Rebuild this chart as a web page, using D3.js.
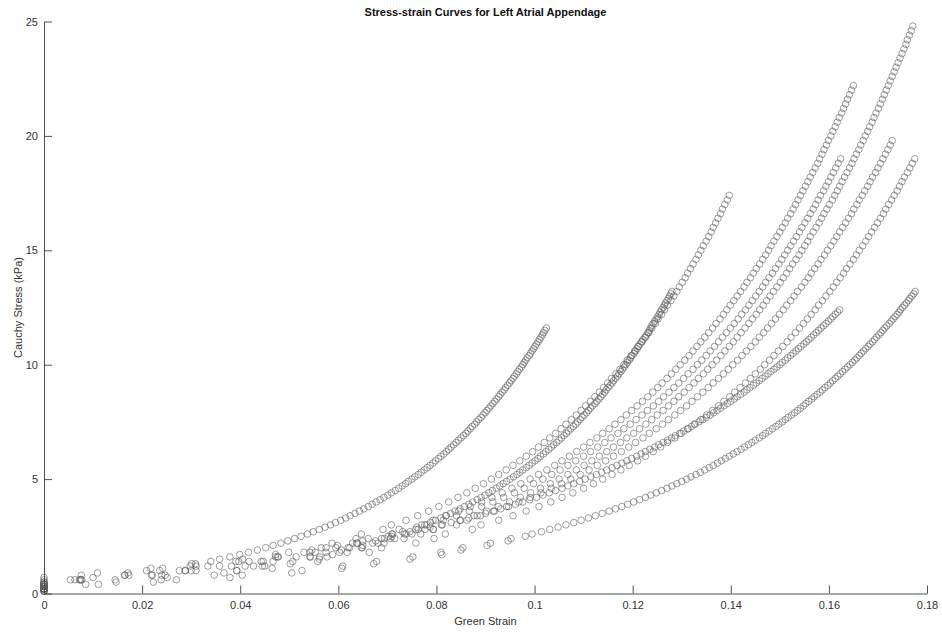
<!DOCTYPE html>
<html>
<head>
<meta charset="utf-8">
<script src="https://cdn.jsdelivr.net/npm/d3@7"></script>
<style>
  body { margin: 0; background: #fff; }
  svg text { font-family: "Liberation Sans", Arial, Helvetica, sans-serif; }
</style>
</head>
<body>
<svg id="chart" width="942" height="632"></svg>
<script>
'use strict'

// stress levels (kPa) the samples were taken at; each curve uses the first N of them
var stressFine = [
  0.1,0.2,0.3,0.4,0.5,0.6,0.7,0.8,0.9,1.0,1.1,1.2,1.3,1.4,1.5,1.6,1.7,1.8,1.9,2.0,
  2.1,2.2,2.3,2.4,2.5,2.6,2.7,2.8,2.9,3.0,3.1,3.2,3.3,3.4,3.5,3.6,3.7,3.8,3.9,4.0,
  4.1,4.2,4.3,4.4,4.5,4.6,4.7,4.8,4.9,5.0,5.1,5.2,5.3,5.4,5.5,5.6,5.7,5.8,5.9,6.0,
  6.1,6.2,6.3,6.4,6.5,6.6,6.7,6.8,6.9,7.0,7.1,7.2,7.3,7.4,7.5,7.6,7.7,7.8,7.9,8.0,
  8.1,8.2,8.3,8.4,8.5,8.6,8.7,8.8,8.9,9.0,9.1,9.2,9.3,9.4,9.5,9.6,9.7,9.8,9.9,10.0,
  10.1,10.2,10.3,10.4,10.5,10.6,10.7,10.8,10.9,11.0,11.1,11.2,11.3,11.4,11.5,11.6,11.7,11.8,11.9,12.0,
  12.1,12.2,12.3,12.4,12.5,12.6,12.7,12.8,12.9,13.0,13.1,13.2
]
var stressCoarse = [
  0.2,0.4,0.6,0.8,1.0,1.2,1.4,1.6,1.8,2.0,2.2,2.4,2.6,2.8,3.0,3.2,3.4,3.6,3.8,4.0,
  4.2,4.4,4.6,4.8,5.0,5.2,5.4,5.6,5.8,6.0,6.2,6.4,6.6,6.8,7.0,7.2,7.4,7.6,7.8,8.0,
  8.2,8.4,8.6,8.8,9.0,9.2,9.4,9.6,9.8,10.0,10.2,10.4,10.6,10.8,11.0,11.2,11.4,11.6,11.8,12.0,
  12.2,12.4,12.6,12.8,13.0,13.2,13.4,13.6,13.8,14.0,14.2,14.4,14.6,14.8,15.0,15.2,15.4,15.6,15.8,16.0,
  16.2,16.4,16.6,16.8,17.0,17.2,17.4,17.6,17.8,18.0,18.2,18.4,18.6,18.8,19.0,19.2,19.4,19.6,19.8,20.0,
  20.2,20.4,20.6,20.8,21.0,21.2,21.4,21.6,21.8,22.0,22.2,22.4,22.6,22.8,23.0,23.2,23.4,23.6,23.8,24.0,
  24.2,24.4,24.6,24.8
]

// green strain of every sample, one array per specimen
var strainA = [
  0,0,0,0,0,0.0074,0.0100,0.0173,0.0171,0.0236,0.0242,0.0310,0.0301,0.0340,
  0.0358,0.0379,0.0399,0.0417,0.0435,0.0452,0.0467,0.0483,0.0497,0.0511,
  0.0524,0.0537,0.0549,0.0561,0.0573,0.0584,0.0594,0.0605,0.0615,0.0624,
  0.0634,0.0643,0.0652,0.0661,0.0669,0.0677,0.0685,0.0693,0.0701,0.0708,
  0.0716,0.0723,0.0730,0.0737,0.0743,0.0750,0.0756,0.0763,0.0769,0.0775,
  0.0781,0.0787,0.0793,0.0798,0.0804,0.0809,0.0815,0.0820,0.0825,0.0830,
  0.0835,0.0840,0.0845,0.0850,0.0855,0.0860,0.0864,0.0869,0.0873,0.0878,
  0.0882,0.0886,0.0891,0.0895,0.0899,0.0903,0.0907,0.0911,0.0915,0.0919,
  0.0923,0.0927,0.0930,0.0934,0.0938,0.0941,0.0945,0.0949,0.0952,0.0956,
  0.0959,0.0963,0.0966,0.0969,0.0973,0.0976,0.0979,0.0982,0.0985,0.0989,
  0.0992,0.0995,0.0998,0.1001,0.1004,0.1007,0.1010,0.1013,0.1016,0.1018,0.1021,0.1024
]
var strainB = [
  0,0,0.0072,0.0219,0.0276,0.0382,0.0397,0.0478,0.0499,0.0575,0.0587,0.0636,0.0647,0.0691,0.0708,
  0.0738,0.0762,0.0784,0.0805,0.0825,0.0844,0.0862,0.0879,0.0896,0.0912,
  0.0927,0.0942,0.0956,0.0970,0.0983,0.0996,0.1008,0.1020,0.1031,0.1043,
  0.1054,0.1064,0.1075,0.1085,0.1095,0.1104,0.1114,0.1123,0.1132,0.1141,
  0.1149,0.1157,0.1166,0.1174,0.1182,0.1189,0.1197,0.1204,0.1211,0.1219,
  0.1226,0.1233,0.1239,0.1246,0.1252,0.1259,0.1265,0.1271,0.1278,0.1284,
  0.1290,0.1295,0.1301,0.1307,0.1312,0.1318,0.1323,0.1329,0.1334,0.1339,
  0.1344,0.1350,0.1355,0.1360,0.1364,0.1369,0.1374,0.1379,0.1383,0.1388,
  0.1393,0.1397
]
var strainC = [
  0,0,0,
  0.0111,0.0147,0.0239,0.0251,0.0347,0.0367,0.0393,0.0465,0.0445,0.0502,
  0.0507,0.0561,0.0543,0.0588,0.0618,0.0606,0.0649,0.0650,0.0681,0.0676,
  0.0706,0.0709,0.0738,0.0731,0.0758,0.0760,0.0776,0.0788,0.0798,0.0809,
  0.0819,0.0829,0.0838,0.0848,0.0857,0.0866,0.0874,0.0883,0.0891,0.0899,
  0.0907,0.0914,0.0922,0.0929,0.0936,0.0943,0.0950,0.0957,0.0964,0.0970,
  0.0976,0.0983,0.0989,0.0995,0.1001,0.1007,0.1012,0.1018,0.1023,0.1029,
  0.1034,0.1039,0.1045,0.1050,0.1055,0.1060,0.1065,0.1069,0.1074,0.1079,
  0.1084,0.1088,0.1093,0.1097,0.1101,0.1106,0.1110,0.1114,0.1118,0.1123,
  0.1127,0.1131,0.1135,0.1139,0.1143,0.1146,0.1150,0.1154,0.1158,0.1161,
  0.1165,0.1169,0.1172,0.1176,0.1179,0.1183,0.1186,0.1189,0.1193,0.1196,
  0.1199,0.1203,0.1206,0.1209,0.1212,0.1215,0.1218,0.1221,0.1225,0.1228,
  0.1231,0.1234,0.1236,0.1239,0.1242,0.1245,0.1248,0.1251,0.1254,0.1256,
  0.1259,0.1262,0.1265,0.1267,0.1270,0.1273,0.1275,0.1278,0.1280
]
var strainD = [
  0,0,0.0077,0.0165,0.0288,0.0334,0.0447,0.0476,0.0553,0.0565,0.0637,0.0661,0.0711,0.0724,0.0770,
  0.0793,0.0820,0.0845,0.0869,0.0892,0.0913,0.0934,0.0954,0.0972,0.0991,
  0.1008,0.1025,0.1041,0.1056,0.1071,0.1086,0.1100,0.1113,0.1127,0.1139,
  0.1152,0.1164,0.1176,0.1187,0.1198,0.1209,0.1220,0.1231,0.1241,0.1251,
  0.1260,0.1270,0.1279,0.1288,0.1297,0.1306,0.1315,0.1323,0.1331,0.1339,
  0.1347,0.1355,0.1363,0.1370,0.1378,0.1385,0.1392,0.1399,0.1406,0.1413,
  0.1420,0.1427,0.1433,0.1440,0.1446,0.1452,0.1459,0.1465,0.1471,0.1477,
  0.1482,0.1488,0.1494,0.1500,0.1505,0.1511,0.1516,0.1522,0.1527,0.1532,
  0.1537,0.1542,0.1547,0.1552,0.1557,0.1562,0.1567,0.1572,0.1577,0.1581,
  0.1586,0.1590,0.1595,0.1599,0.1604,0.1608,0.1613,0.1617,0.1621,0.1626,
  0.1630,0.1634,0.1638,0.1642,0.1646,0.1650
]
var strainE = [
  0,0,0.0075,0.0240,0.0300,0.0427,0.0467,0.0562,0.0575,0.0647,0.0670,0.0734,0.0750,0.0794,0.0810,
  0.0849,0.0876,0.0902,0.0926,0.0949,0.0971,0.0992,0.1012,0.1032,0.1050,
  0.1068,0.1085,0.1101,0.1117,0.1132,0.1147,0.1161,0.1175,0.1188,0.1202,
  0.1214,0.1227,0.1239,0.1250,0.1262,0.1273,0.1284,0.1294,0.1305,0.1315,
  0.1325,0.1334,0.1344,0.1353,0.1362,0.1371,0.1380,0.1388,0.1397,0.1405,
  0.1413,0.1421,0.1429,0.1437,0.1444,0.1452,0.1459,0.1466,0.1473,0.1480,
  0.1487,0.1494,0.1501,0.1507,0.1514,0.1520,0.1526,0.1533,0.1539,0.1545,
  0.1551,0.1557,0.1562,0.1568,0.1574,0.1580,0.1585,0.1590,0.1596,0.1601,
  0.1607,0.1612,0.1617,0.1622,0.1627,0.1632,0.1637,0.1642,0.1647,0.1651,
  0.1656,0.1661,0.1665,0.1670,0.1674,0.1679,0.1683,0.1688,0.1692,0.1696,
  0.1701,0.1705,0.1709,0.1713,0.1717,0.1721,0.1725,0.1729,0.1733,0.1737,
  0.1741,0.1745,0.1749,0.1753,0.1757,0.1760,0.1764,0.1768,0.1771
]
var strainF = [
  0,0,0.0063,0.0164,0.0310,0.0358,0.0418,0.0514,0.0542,0.0620,0.0629,0.0688,0.0709,0.0763,0.0780,
  0.0814,0.0841,0.0867,0.0892,0.0915,0.0937,0.0959,0.0979,0.0998,0.1017,
  0.1035,0.1052,0.1068,0.1084,0.1100,0.1114,0.1129,0.1143,0.1156,0.1170,
  0.1182,0.1195,0.1207,0.1219,0.1230,0.1242,0.1253,0.1263,0.1274,0.1284,
  0.1294,0.1304,0.1313,0.1323,0.1332,0.1341,0.1350,0.1358,0.1367,0.1375,
  0.1383,0.1391,0.1399,0.1407,0.1415,0.1422,0.1430,0.1437,0.1444,0.1451,
  0.1458,0.1465,0.1471,0.1478,0.1485,0.1491,0.1498,0.1504,0.1510,0.1516,
  0.1522,0.1528,0.1534,0.1540,0.1545,0.1551,0.1557,0.1562,0.1568,0.1573,
  0.1578,0.1583,0.1589,0.1594,0.1599,0.1604,0.1609,0.1614,0.1619,0.1624
]
var strainG = [
  0,0,0.0054,0.0221,0.0288,0.0410,0.0443,0.0542,0.0603,0.0623,0.0693,0.0715,0.0768,0.0793,0.0841,
  0.0862,0.0890,0.0918,0.0943,0.0968,0.0991,0.1013,0.1034,0.1055,0.1074,
  0.1093,0.1111,0.1128,0.1145,0.1161,0.1177,0.1192,0.1206,0.1221,0.1234,
  0.1248,0.1261,0.1273,0.1286,0.1298,0.1310,0.1321,0.1332,0.1343,0.1354,
  0.1364,0.1375,0.1385,0.1395,0.1404,0.1414,0.1423,0.1432,0.1441,0.1450,
  0.1458,0.1467,0.1475,0.1483,0.1491,0.1499,0.1507,0.1514,0.1522,0.1529,
  0.1536,0.1544,0.1551,0.1558,0.1564,0.1571,0.1578,0.1584,0.1591,0.1597,
  0.1604,0.1610,0.1616,0.1622,0.1628,0.1634,0.1640,0.1646,0.1651,0.1657,
  0.1662,0.1668,0.1673,0.1679,0.1684,0.1689,0.1695,0.1700,0.1705,0.1710,
  0.1715,0.1720,0.1725,0.1729
]
var strainH = [
  0,0,0.0145,0.0247,0.0393,0.0450,0.0558,0.0577,0.0663,0.0688,0.0758,0.0795,0.0818,0.0873,0.0891,
  0.0927,0.0956,0.0983,0.1009,0.1033,0.1056,0.1078,0.1100,0.1120,0.1139,
  0.1158,0.1176,0.1193,0.1210,0.1226,0.1242,0.1257,0.1271,0.1286,0.1299,
  0.1313,0.1326,0.1339,0.1351,0.1363,0.1375,0.1386,0.1398,0.1408,0.1419,
  0.1430,0.1440,0.1450,0.1460,0.1469,0.1479,0.1488,0.1497,0.1506,0.1515,
  0.1523,0.1532,0.1540,0.1548,0.1556,0.1564,0.1572,0.1579,0.1587,0.1594,
  0.1602,0.1609,0.1616,0.1623,0.1630,0.1636,0.1643,0.1650,0.1656,0.1662,
  0.1669,0.1675,0.1681,0.1687,0.1693,0.1699,0.1705,0.1711,0.1716,0.1722,
  0.1728,0.1733,0.1739,0.1744,0.1749,0.1754,0.1760,0.1765,0.1770,0.1775
]
var strainI = [
  0,0,0,0,0,0,0,
  0.0076,0.0109,0.0209,0.0218,0.0298,0.0309,0.0391,0.0405,0.0472,0.0472,
  0.0530,0.0546,0.0595,0.0598,0.0639,0.0650,0.0694,0.0702,0.0735,0.0746,
  0.0777,0.0787,0.0812,0.0830,0.0848,0.0866,0.0883,0.0900,0.0916,0.0931,
  0.0947,0.0961,0.0976,0.0990,0.1004,0.1017,0.1030,0.1043,0.1056,0.1068,
  0.1080,0.1092,0.1103,0.1115,0.1126,0.1137,0.1147,0.1158,0.1168,0.1178,
  0.1188,0.1198,0.1208,0.1217,0.1226,0.1235,0.1245,0.1253,0.1262,0.1271,
  0.1279,0.1287,0.1296,0.1304,0.1312,0.1320,0.1327,0.1335,0.1343,0.1350,
  0.1358,0.1365,0.1372,0.1379,0.1386,0.1393,0.1400,0.1407,0.1413,0.1420,
  0.1427,0.1433,0.1439,0.1446,0.1452,0.1458,0.1464,0.1470,0.1476,0.1482,
  0.1488,0.1494,0.1500,0.1505,0.1511,0.1516,0.1522,0.1527,0.1533,0.1538,
  0.1543,0.1549,0.1554,0.1559,0.1564,0.1569,0.1574,0.1579,0.1584,0.1589,
  0.1594,0.1599,0.1604,0.1608,0.1613,0.1618,0.1622
]
var strainJ = [
  0,0,0,
  0.0085,0.0223,0.0270,0.0379,0.0404,0.0505,0.0526,0.0607,0.0609,0.0672,
  0.0678,0.0746,0.0752,0.0811,0.0809,0.0850,0.0854,0.0903,0.0910,0.0946,
  0.0952,0.0981,0.0995,0.1014,0.1031,0.1048,0.1064,0.1080,0.1095,0.1110,
  0.1124,0.1138,0.1152,0.1165,0.1178,0.1190,0.1202,0.1214,0.1226,0.1237,
  0.1248,0.1259,0.1270,0.1280,0.1290,0.1300,0.1310,0.1319,0.1329,0.1338,
  0.1347,0.1356,0.1364,0.1373,0.1381,0.1389,0.1397,0.1405,0.1413,0.1421,
  0.1428,0.1436,0.1443,0.1450,0.1458,0.1465,0.1471,0.1478,0.1485,0.1492,
  0.1498,0.1505,0.1511,0.1517,0.1524,0.1530,0.1536,0.1542,0.1548,0.1553,
  0.1559,0.1565,0.1570,0.1576,0.1582,0.1587,0.1592,0.1598,0.1603,0.1608,
  0.1613,0.1618,0.1623,0.1628,0.1633,0.1638,0.1643,0.1648,0.1653,0.1657,
  0.1662,0.1666,0.1671,0.1675,0.1680,0.1684,0.1689,0.1693,0.1697,0.1702,
  0.1706,0.1710,0.1714,0.1718,0.1723,0.1727,0.1731,0.1735,0.1739,0.1743,
  0.1746,0.1750,0.1754,0.1758,0.1762,0.1765,0.1769,0.1773,0.1776
]

var specimens = [
  { strain: strainA, stress: stressFine },
  { strain: strainB, stress: stressCoarse },
  { strain: strainC, stress: stressFine },
  { strain: strainD, stress: stressCoarse },
  { strain: strainE, stress: stressCoarse },
  { strain: strainF, stress: stressCoarse },
  { strain: strainG, stress: stressCoarse },
  { strain: strainH, stress: stressCoarse },
  { strain: strainI, stress: stressFine },
  { strain: strainJ, stress: stressFine }
]

var xTicks = [0, 0.02, 0.04, 0.06, 0.08, 0.1, 0.12, 0.14, 0.16, 0.18]
var xTickLabels = ['0', '0.02', '0.04', '0.06', '0.08', '0.1', '0.12', '0.14', '0.16', '0.18']
var yTicks = [0, 5, 10, 15, 20, 25]
var yTickLabels = ['0', '5', '10', '15', '20', '25']

var title = 'Stress-strain Curves for Left Atrial Appendage'
var xTitle = 'Green Strain'
var yTitle = 'Cauchy Stress (kPa)'

var svg = d3.select('#chart'),
  width = +svg.attr('width'),
  height = +svg.attr('height')

var margin = { top: 21.5, right: 15, bottom: 38.5, left: 44 }

var x = d3.scaleLinear().domain([0, 0.18]).range([margin.left, width - margin.right])
var y = d3.scaleLinear().domain([0, 25]).range([height - margin.bottom, margin.top])

var axisColour = '#505050'

// markers first, axes on top like matlab
specimens.forEach(function(s) {
  var pts = s.strain.map(function(e, i) { return [e, s.stress[i]] })
  svg.append('g')
    .attr('class', 'specimen')
    .selectAll('circle')
    .data(pts)
    .enter().append('circle')
    .attr('cx', function(d) { return x(d[0]) })
    .attr('cy', function(d) { return y(d[1]) })
    .attr('r', 3.3)
    .attr('fill', 'none')
    .attr('stroke', '#5c5c5c')
    .attr('stroke-width', 0.6)
})

var xAxis = svg.append('g')
  .attr('transform', 'translate(0,' + y(0) + ')')
  .call(d3.axisBottom(x)
    .tickValues(xTicks)
    .tickFormat(function(d, i) { return xTickLabels[i] })
    .tickSize(-8)
    .tickSizeOuter(0)
    .tickPadding(8))

var yAxis = svg.append('g')
  .attr('transform', 'translate(' + x(0) + ',0)')
  .call(d3.axisLeft(y)
    .tickValues(yTicks)
    .tickFormat(function(d, i) { return yTickLabels[i] })
    .tickSize(-8)
    .tickSizeOuter(0)
    .tickPadding(6))

;[xAxis, yAxis].forEach(function(g) {
  g.attr('font-family', null).attr('font-size', null)
  g.select('.domain').attr('stroke', axisColour)
  g.selectAll('.tick line').attr('stroke', axisColour)
  g.selectAll('.tick text').attr('fill', '#333').style('font-size', '11px')
})

svg.append('text')
  .attr('x', (x.range()[0] + x.range()[1]) / 2)
  .attr('y', 16)
  .attr('text-anchor', 'middle')
  .style('font-size', '11px')
  .style('font-weight', 'bold')
  .attr('fill', '#111')
  .text(title)

svg.append('text')
  .attr('x', (x.range()[0] + x.range()[1]) / 2)
  .attr('y', 625)
  .attr('text-anchor', 'middle')
  .style('font-size', '11px')
  .attr('fill', '#333')
  .text(xTitle)

svg.append('text')
  .attr('transform', 'translate(22,' + ((y.range()[0] + y.range()[1]) / 2) + ') rotate(-90)')
  .attr('text-anchor', 'middle')
  .style('font-size', '11px')
  .attr('fill', '#333')
  .text(yTitle)
</script>
</body>
</html>
